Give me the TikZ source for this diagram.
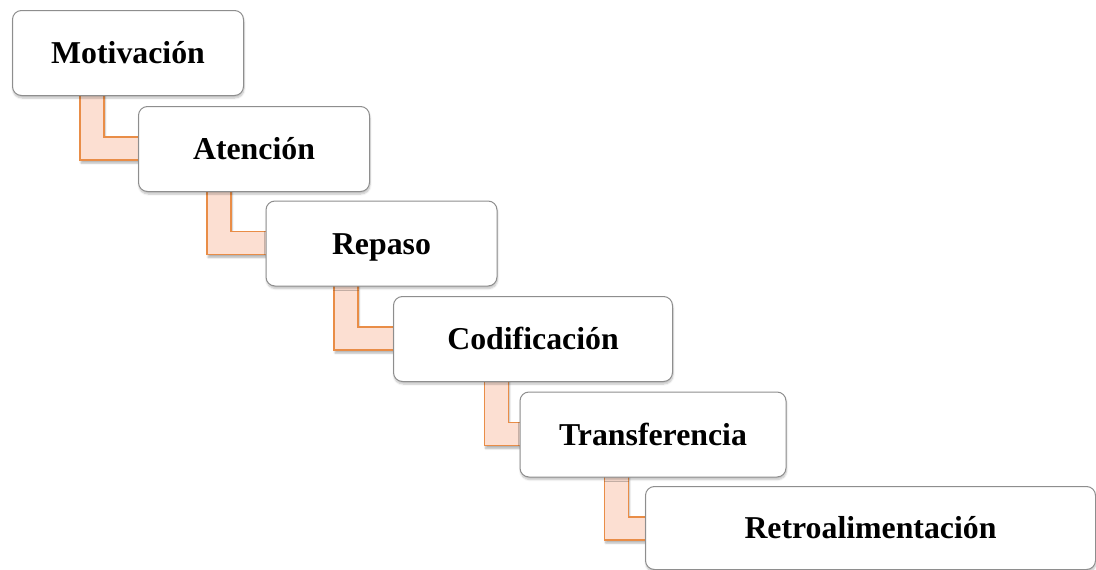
\documentclass[tikz,border=0pt]{standalone}
\usepackage{fontspec}
\setmainfont{Liberation Serif}
\usetikzlibrary{calc,shadows.blur}
\pgfdeclarelayer{background}
\pgfsetlayers{background,main}

\definecolor{bandfill}{HTML}{FCDFD2}
\definecolor{bandline}{HTML}{E98D47}
\definecolor{boxline}{HTML}{8E8E8E}

\tikzset{
  stepbox/.style={draw=boxline, line width=1pt, fill=white, rounded corners=9pt,
    anchor=north west, minimum height=85pt, inner sep=0pt,
    text height=21pt, text depth=0pt,
    font=\fontsize{31.8}{38}\selectfont\bfseries,
    blur shadow={shadow xshift=0.5pt, shadow yshift=-2.5pt, shadow blur steps=6, shadow opacity=25}},
  band/.style={draw=bandline, line width=1.6pt, fill=bandfill, line join=miter,
    blur shadow={shadow xshift=1pt, shadow yshift=-3pt, shadow blur steps=5, shadow opacity=30}}
}

% L-shaped band from the lower edge of #1 to the left edge of #2;
% #3 is the offset of the vertical strip from the left side of #1
\newcommand\stepband[3]{%
  \begin{pgfonlayer}{background}
    \draw[band] ($(#1.south west)+(#3,-4)$) |- ($(#2.north west)+(4,54)$)
      -- ($(#2.north west)+(4,31)$) -| ($(#1.south west)+(#3+24,-4)$) -- cycle;
  \end{pgfonlayer}}

\begin{document}
\begin{tikzpicture}[x=1pt,y=-1pt]
  \useasboundingbox (0,0) rectangle (1096,570);

  \node[stepbox, minimum width=231pt] (mot) at (12,10) {Motivación};
  \node[stepbox, minimum width=231pt] (ate) at (138,106) {Atención};
  \node[stepbox, minimum width=231pt] (rep) at (265.5,200.5) {Repaso};
  \node[stepbox, minimum width=279pt] (cod) at (393,296) {Codificación};
  \node[stepbox, minimum width=266pt] (tra) at (519.5,391.5) {Transferencia};
  \node[stepbox, minimum width=450pt, minimum height=83pt] (ret) at (645,486) {Retroalimentación};

  \stepband{mot}{ate}{68}
  \stepband{ate}{rep}{69}
  \stepband{rep}{cod}{68.5}
  \stepband{cod}{tra}{91.5}
  \stepband{tra}{ret}{85}
\end{tikzpicture}
\end{document}
